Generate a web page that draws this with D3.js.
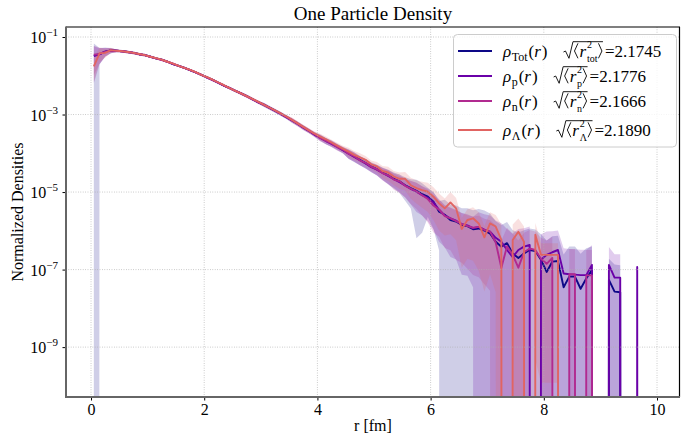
<!DOCTYPE html>
<html><head><meta charset="utf-8">
<script src="https://cdn.jsdelivr.net/npm/d3@7"></script>
<style>
body{margin:0;background:#fff;}
svg{display:block;}
text{font-family:"Liberation Serif","Times New Roman",serif;fill:#000;}
</style>
</head><body>
<svg id="c" width="681" height="438"></svg>
<script>
// ---------------- DATA ----------------
const radius = [0.05,0.15,0.25,0.35,0.45,0.55,0.65,0.75,0.85,0.95,
1.05,1.15,1.25,1.35,1.45,1.55,1.65,1.75,1.85,1.95,
2.05,2.15,2.25,2.35,2.45,2.55,2.65,2.75,2.85,2.95,
3.05,3.15,3.25,3.35,3.45,3.55,3.65,3.75,3.85,3.95,
4.05,4.15,4.25,4.35,4.45,4.55,4.65,4.75,4.85,4.95,
5.05,5.15,5.25,5.35,5.45,5.55,5.65,5.75,5.85,5.95,
6.05,6.15,6.25,6.35,6.45,6.55,6.65,6.75,6.85,6.95,
7.05,7.15,7.25,7.35,7.45,7.55,7.65,7.75,7.85,7.95,
8.05,8.15,8.25,8.35,8.45,8.55,8.65,8.75,8.85,8.95,
9.05,9.15,9.25,9.35,9.45,9.55,9.65,9.75,9.85,9.95];

const rhoTot = [3.3e-2,3.6e-2,4.2e-2,4.5e-2,4.4e-2,4.3e-2,4.1e-2,3.9e-2,3.6e-2,3.4e-2,
3.1e-2,2.8e-2,2.6e-2,2.3e-2,2.0e-2,1.8e-2,1.6e-2,1.4e-2,1.23e-2,1.05e-2,
9.1e-3,7.8e-3,6.6e-3,5.6e-3,4.8e-3,4.1e-3,3.5e-3,3.0e-3,2.5e-3,2.1e-3,
1.8e-3,1.5e-3,1.26e-3,1.05e-3,8.7e-4,7.1e-4,5.8e-4,4.7e-4,3.8e-4,3.1e-4,
2.6e-4,2.1e-4,1.8e-4,1.5e-4,1.23e-4,1.0e-4,8.3e-5,6.8e-5,5.6e-5,4.6e-5,
3.9e-5,3.2e-5,2.7e-5,2.2e-5,1.9e-5,1.5e-5,1.26e-5,1.07e-5,8.9e-6,7.6e-6,
5.6e-6,3.1e-6,2.6e-6,1.9e-6,1.74e-6,1.41e-6,1.32e-6,1.1e-6,1.15e-6,1.02e-6,
8.5e-7,5.2e-7,3.9e-7,4.8e-7,2.6e-7,2.0e-7,2.6e-7,3.2e-7,3.0e-7,1.8e-7,
8.7e-8,1.6e-7,1.66e-7,3.5e-8,6.6e-8,6.6e-8,3.2e-8,5.9e-8,9.8e-8,0,
0,5.4e-8,2.7e-8,2.6e-8,0,0,0,0,0,0];

const rhoP = [3.2e-2,3.55e-2,4.2e-2,4.5e-2,4.4e-2,4.3e-2,4.1e-2,3.9e-2,3.6e-2,3.4e-2,
3.1e-2,2.8e-2,2.6e-2,2.3e-2,2.0e-2,1.8e-2,1.6e-2,1.4e-2,1.22e-2,1.05e-2,
9.0e-3,7.8e-3,6.6e-3,5.6e-3,4.8e-3,4.1e-3,3.5e-3,3.0e-3,2.5e-3,2.1e-3,
1.8e-3,1.5e-3,1.25e-3,1.04e-3,8.6e-4,7.0e-4,5.8e-4,4.6e-4,3.8e-4,3.0e-4,
2.5e-4,2.1e-4,1.75e-4,1.45e-4,1.2e-4,9.8e-5,8.1e-5,6.6e-5,5.5e-5,4.4e-5,
3.8e-5,3.1e-5,2.6e-5,2.15e-5,1.8e-5,1.48e-5,1.2e-5,1.02e-5,8.3e-6,7.1e-6,
5.4e-6,3.5e-6,2.5e-6,2.1e-6,1.82e-6,1.48e-6,1.38e-6,1.17e-6,1.26e-6,1.07e-6,
9.5e-7,6.6e-7,5.2e-7,3.2e-7,2.1e-7,3.2e-7,3.9e-7,4.3e-7,0,1.8e-7,
2.4e-7,2.8e-7,3.2e-7,7.9e-8,7.6e-8,7.4e-8,7.2e-8,7.2e-8,1.32e-7,0,
0,1.32e-7,6.2e-8,6.2e-8,0,0,1.17e-7,0,0,0];

const rhoN = [3.5e-2,3.65e-2,4.15e-2,4.45e-2,4.4e-2,4.3e-2,4.1e-2,3.9e-2,3.6e-2,3.4e-2,
3.1e-2,2.8e-2,2.55e-2,2.3e-2,2.05e-2,1.8e-2,1.6e-2,1.42e-2,1.23e-2,1.06e-2,
9.1e-3,7.7e-3,6.6e-3,5.6e-3,4.8e-3,4.1e-3,3.5e-3,2.95e-3,2.5e-3,2.1e-3,
1.8e-3,1.5e-3,1.27e-3,1.05e-3,8.7e-4,7.2e-4,5.8e-4,4.7e-4,3.8e-4,3.1e-4,
2.5e-4,2.1e-4,1.8e-4,1.45e-4,1.25e-4,9.8e-5,8.4e-5,6.6e-5,5.7e-5,4.5e-5,
3.9e-5,3.1e-5,2.7e-5,2.1e-5,1.9e-5,1.45e-5,1.23e-5,1.05e-5,8.3e-6,6.6e-6,
4.5e-6,3.5e-6,2.4e-6,2.1e-6,1.78e-6,1.51e-6,1.32e-6,1.2e-6,1.26e-6,1.05e-6,
9.5e-7,5.0e-7,1.12e-7,4.0e-7,2.4e-7,1.12e-7,2.8e-7,3.5e-7,3.2e-7,1.9e-7,
1.41e-7,2.0e-7,0,0,7.6e-8,7.6e-8,0,7.1e-8,7.1e-8,0,
0,0,0,0,0,0,0,0,0,0];

const rhoL = [1.74e-2,3.8e-2,3.9e-2,4.6e-2,4.4e-2,4.3e-2,4.1e-2,3.9e-2,3.65e-2,3.4e-2,
3.1e-2,2.85e-2,2.6e-2,2.3e-2,2.05e-2,1.8e-2,1.6e-2,1.42e-2,1.24e-2,1.06e-2,
9.2e-3,7.9e-3,6.7e-3,5.7e-3,4.8e-3,4.1e-3,3.5e-3,3.0e-3,2.55e-3,2.15e-3,
1.8e-3,1.52e-3,1.28e-3,1.07e-3,8.9e-4,7.3e-4,5.9e-4,4.8e-4,3.9e-4,3.2e-4,
2.7e-4,2.3e-4,1.9e-4,1.58e-4,1.32e-4,1.1e-4,9.1e-5,7.9e-5,6.8e-5,5.2e-5,
4.6e-5,3.5e-5,3.2e-5,2.5e-5,2.2e-5,2.2e-5,1.5e-5,1.26e-5,1.12e-5,1.02e-5,
7.6e-6,5.1e-6,3.8e-6,5.4e-6,3.8e-6,1.12e-6,1.9e-6,2.1e-6,1.55e-6,6.8e-7,
1.55e-6,1.29e-6,5.8e-7,0,5.8e-7,9.5e-7,5.2e-7,0,7.9e-7,2.4e-7,
2.4e-7,2.4e-7,2.4e-7,0,0,0,0,0,0,0,
0,0,0,0,0,0,0,0,0,0];

// relative uncertainties (band half-width / value)
const relTot = [1.05,0.45,0.25,0.15,0.08,0.08,0.08,0.08,0.08,0.08,
0.06,0.06,0.06,0.06,0.06,0.06,0.06,0.06,0.06,0.06,
0.08,0.08,0.08,0.08,0.08,0.08,0.08,0.08,0.08,0.08,
0.12,0.12,0.12,0.12,0.12,0.12,0.12,0.12,0.12,0.12,
0.18,0.18,0.18,0.18,0.18,0.28,0.28,0.28,0.28,0.28,
0.3,0.35,0.4,0.45,0.5,0.6,0.7,0.94,0.9,0.7,
0.8,0.9,1.45,1.5,1.6,1.7,1.9,2.1,2.2,2.3,
2.3,2.4,2.6,2.5,3.0,3.5,3.0,2.6,2.6,3.5,
5.5,3.5,3.5,6,5,5,7,5,3,0,
0,2.5,4,4,0,0,0,0,0,0];

const relP = [0.8,0.45,0.25,0.15,0.08,0.08,0.08,0.08,0.08,0.08,
0.06,0.06,0.06,0.06,0.06,0.06,0.06,0.06,0.06,0.06,
0.07,0.07,0.07,0.07,0.07,0.07,0.09,0.09,0.09,0.09,
0.1,0.1,0.1,0.1,0.1,0.14,0.14,0.14,0.14,0.14,
0.18,0.18,0.18,0.18,0.18,0.26,0.26,0.26,0.26,0.26,
0.3,0.35,0.4,0.4,0.45,0.5,0.6,0.7,0.7,0.75,
0.8,0.85,0.85,0.9,0.9,0.95,0.95,0.97,1.4,1.5,
1.6,1.8,2.0,2.5,3,2.5,2.0,2.0,0,3.5,
3,2.5,2.2,3.5,3.5,3.5,3.5,3.5,2.2,0,
0,1.9,3,3,0,0,2,0,0,0];

const relN = [0.7,0.45,0.25,0.15,0.08,0.08,0.08,0.08,0.08,0.08,
0.06,0.06,0.06,0.06,0.06,0.06,0.06,0.06,0.06,0.06,
0.07,0.07,0.07,0.07,0.07,0.07,0.09,0.09,0.09,0.09,
0.1,0.1,0.1,0.1,0.1,0.14,0.14,0.14,0.14,0.14,
0.18,0.18,0.18,0.18,0.18,0.26,0.26,0.26,0.26,0.26,
0.3,0.35,0.4,0.45,0.5,0.5,0.6,0.65,0.7,0.75,
0.8,0.8,0.85,0.85,0.9,0.9,0.92,0.94,0.95,0.96,
0.97,1.8,4,2,2.5,4,2.2,2,2,2.5,
3,2.5,0,0,3.5,3.5,0,3.5,3.5,0,
0,0,0,0,0,0,0,0,0,0];

const relL = [0.6,0.4,0.25,0.15,0.08,0.08,0.08,0.08,0.08,0.08,
0.06,0.06,0.06,0.06,0.06,0.06,0.06,0.06,0.06,0.06,
0.07,0.07,0.07,0.07,0.07,0.07,0.09,0.09,0.09,0.09,
0.1,0.1,0.1,0.1,0.1,0.14,0.14,0.14,0.14,0.14,
0.18,0.18,0.18,0.18,0.18,0.26,0.26,0.26,0.26,0.26,
0.3,0.35,0.4,0.4,0.45,0.5,0.55,0.6,0.65,0.7,
0.75,0.8,0.8,0.85,0.85,0.9,0.9,0.92,0.94,0.96,
0.95,0.98,1.5,0,1.5,1.2,1.5,0,0.9994,0.9995,
0.9995,0.9995,0.9995,0,0,0,0,0,0,0,
0,0,0,0,0,0,0,0,0,0];

const densitySubscripts = ["Tot","p","n","Λ"];
const radiusSubscripts = ["tot","p","n","Λ"];
const rmsValues = ["2.1745","2.1776","2.1666","2.1890"];

const xTickValues = [0,2,4,6,8,10];
const xTickLabels = ["0","2","4","6","8","10"];
const yTickValues = [1e-1,1e-3,1e-5,1e-7,1e-9];
const yTickExponents = ["−1","−3","−5","−7","−9"];

const titleText = "One Particle Density";
const xLabelText = "r [fm]";
const yLabelText = "Normalized Densities";

// ---------------- STYLE / LAYOUT ----------------
const colors = ["#0d0887","#6a00a8","#b12a90","#e16462"];
const series = [
  {v: rhoTot, e: relTot}, {v: rhoP, e: relP}, {v: rhoN, e: relN}, {v: rhoL, e: relL}
].map((s,i)=>({...s, color: colors[i], sub: densitySubscripts[i], rsub: radiusSubscripts[i], rms: rmsValues[i],
   pts: radius.map((r,k)=>({r, v:s.v[k], e:s.e[k]}))}));

const P = {left:66, right:680, top:27, bottom:397};
const svg = d3.select("#c");
const x = d3.scaleLinear().domain([-0.442, 10.406]).range([P.left, P.right]);
const y = d3.scaleLog().domain([Math.pow(10,-10.287), Math.pow(10,-0.742)]).range([P.bottom, P.top]);
const FLOOR = 1e-300;
const yv = v => y(Math.max(v, FLOOR));

svg.append("defs").append("clipPath").attr("id","clip")
  .append("rect").attr("x",P.left).attr("y",P.top).attr("width",P.right-P.left).attr("height",P.bottom-P.top);

const plot = svg.append("g").attr("clip-path","url(#clip)");

// bands
const area = d3.area().x(d=>x(d.r)).y0(d=>yv(d.v*(1-d.e))).y1(d=>yv(d.v*(1+d.e)));
series.forEach(s=>{
  plot.append("path").datum(s.pts).attr("d",area).attr("fill",s.color).attr("fill-opacity",0.2).attr("stroke","none");
});

// grid
const grid = svg.append("g");
xTickValues.forEach(t=>{
  grid.append("line").attr("x1",x(t)).attr("x2",x(t)).attr("y1",P.top).attr("y2",P.bottom)
    .attr("stroke","#b0b0b0").attr("stroke-width",0.8).attr("stroke-dasharray","0.8,1.6");
});
yTickValues.forEach(t=>{
  grid.append("line").attr("x1",P.left).attr("x2",P.right).attr("y1",y(t)).attr("y2",y(t))
    .attr("stroke","#b0b0b0").attr("stroke-width",0.8).attr("stroke-dasharray","0.8,1.6");
});

// lines
const line = d3.line().x(d=>x(d.r)).y(d=>yv(d.v));
series.forEach(s=>{
  plot.append("path").datum(s.pts).attr("d",line).attr("fill","none").attr("stroke",s.color)
    .attr("stroke-width",1.9).attr("stroke-linejoin","round");
});

// axes (ticks + labels)
const xAxis = d3.axisBottom(x).tickValues(xTickValues).tickSize(3.5).tickPadding(5)
  .tickFormat((d,i)=>xTickLabels[i]);
const gx = svg.append("g").attr("transform",`translate(0,${P.bottom})`).call(xAxis);
gx.select(".domain").remove();
gx.selectAll(".tick line").attr("stroke","#000").attr("stroke-width",1);
gx.selectAll(".tick text").attr("font-family","Liberation Serif, serif").attr("font-size",16).attr("fill","#000")
  .attr("dy",null).attr("y",17.5);

const yAxis = d3.axisLeft(y).tickValues(yTickValues).tickSize(3.5).tickFormat("");
const gy = svg.append("g").attr("transform",`translate(${P.left},0)`).call(yAxis);
gy.select(".domain").remove();
gy.selectAll(".tick line").attr("stroke","#000").attr("stroke-width",1);
gy.selectAll(".tick").each(function(d,i){
  const t = d3.select(this).append("text").attr("x",-8).attr("y",5.7).attr("text-anchor","end")
    .attr("font-family","Liberation Serif, serif").attr("fill","#000");
  t.append("tspan").attr("font-size",16).text("10");
  t.append("tspan").attr("font-size",11).attr("dy",-7).text(yTickExponents[i]);
});

// spines
svg.append("line").attr("x1",P.left).attr("x2",P.right).attr("y1",P.top).attr("y2",P.top).attr("stroke","#000").attr("stroke-width",1.2);
svg.append("line").attr("x1",P.right-0.5).attr("x2",P.right-0.5).attr("y1",P.top).attr("y2",P.bottom).attr("stroke","#000").attr("stroke-width",1.2);
svg.append("line").attr("x1",P.left).attr("x2",P.left).attr("y1",P.top-0.6).attr("y2",P.bottom+1).attr("stroke","#666").attr("stroke-width",2);
svg.append("line").attr("x1",P.left-1).attr("x2",P.right).attr("y1",P.bottom).attr("y2",P.bottom).attr("stroke","#666").attr("stroke-width",2);

// titles
svg.append("text").attr("x",(P.left+P.right)/2).attr("y",20).attr("text-anchor","middle").attr("font-size",19).text(titleText);
svg.append("text").attr("x",(P.left+P.right)/2).attr("y",431).attr("text-anchor","middle").attr("font-size",16).text(xLabelText);
svg.append("text").attr("transform",`translate(23,${(P.top+P.bottom)/2}) rotate(-90)`).attr("text-anchor","middle").attr("font-size",16).text(yLabelText);

// legend
const lg = svg.append("g");
lg.append("rect").attr("x",453.5).attr("y",34.5).attr("width",223).attr("height",112.5).attr("rx",4)
  .attr("fill","#fff").attr("fill-opacity",0.8).attr("stroke","#cccccc").attr("stroke-width",1);
function addText(g, str, x0, y0, size, italic){
  const t = g.append("text").attr("x",x0).attr("y",y0).attr("font-size",size).text(str);
  if(italic) t.attr("font-style","italic");
  return x0 + t.node().getComputedTextLength();
}
const rowCy = [51, 76, 101, 130];
series.forEach((s,i)=>{
  const cy = rowCy[i], bl = cy+5.5;
  lg.append("line").attr("x1",458).attr("x2",492).attr("y1",cy).attr("y2",cy).attr("stroke",s.color).attr("stroke-width",2);
  let cx = 503;
  cx = addText(lg,"ρ",cx,bl,17,true);
  cx = addText(lg,s.sub,cx+0.5,bl+4,12,false);
  cx = addText(lg,"(",cx+1,bl,17,false);
  cx = addText(lg,"r",cx,bl,17,true);
  cx = addText(lg,")",cx+1,bl,17,false);
  const rx0 = cx + 16;
  let ix = rx0 + 10.5;
  lg.append("path").attr("d",`M${ix+4},${cy-7.7}L${ix+0.5},${cy}L${ix+4},${cy+7.3}`).attr("fill","none").attr("stroke","#000").attr("stroke-width",0.9);
  ix += 5.5;
  ix = addText(lg,"r",ix,bl,17,true);
  const a = addText(lg,"2",ix+0.8,bl-8.5,10,false);
  const b = addText(lg,s.rsub,ix+0.8,bl+5,10,false);
  ix = Math.max(a,b) + 1;
  lg.append("path").attr("d",`M${ix},${cy-7.7}L${ix+3.5},${cy}L${ix},${cy+7.3}`).attr("fill","none").attr("stroke","#000").attr("stroke-width",0.9);
  ix += 4.5;
  lg.append("path").attr("d",`M${rx0},${cy+1}L${rx0+2},${cy}L${rx0+5.5},${cy+7.3}L${rx0+9.5},${cy-9.3}L${ix},${cy-9.3}`)
    .attr("fill","none").attr("stroke","#000").attr("stroke-width",0.9);
  addText(lg,"=" + s.rms, ix+2, bl, 17, false);
});
</script>
</body></html>
